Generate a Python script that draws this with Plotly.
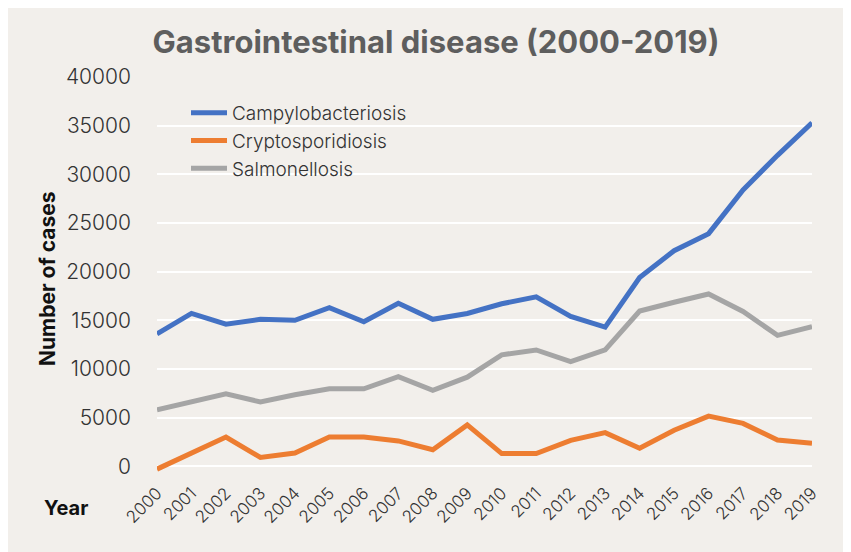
import plotly.graph_objects as go

years = list(range(2000, 2020))
campylobacteriosis = [13600, 15700, 14600, 15100, 15000, 16300, 14850, 16750, 15100, 15700,
                      16700, 17400, 15400, 14300, 19400, 22150, 23900, 28400, 31950, 35300]
cryptosporidiosis = [-300, 1400, 3000, 900, 1350, 3000, 3000, 2600, 1700, 4250,
                     1300, 1300, 2650, 3450, 1850, 3700, 5150, 4400, 2700, 2350]
salmonellosis = [5800, 6650, 7450, 6600, 7350, 7950, 7950, 9200, 7800, 9150,
                 11450, 11950, 10750, 11950, 15950, 16850, 17700, 15900, 13450, 14350]
series_names = ["Campylobacteriosis", "Cryptosporidiosis", "Salmonellosis"]
series_colors = ["#4472C4", "#ED7D31", "#A5A5A5"]
year_labels = [str(y) for y in years]
y_ticks = list(range(0, 40001, 5000))

BG = "#F2EFEB"
FONT = "Inter"
# page has an 8px body margin; figure coords = page coords - 8
W, H = 841, 544
L, R, T, B = 149, 37, 69, 78
PW, PH = W - L - R, H - T - B


def px_x(x):
    return (x - L) / PW


def px_y(y):
    return (H - B - y) / PH


fig = go.Figure()
for name, vals, col in zip(series_names, [campylobacteriosis, cryptosporidiosis, salmonellosis], series_colors):
    fig.add_trace(go.Scatter(x=years, y=vals, mode="lines", name=name,
                             line=dict(color=col, width=5)))

fig.update_layout(
    width=W, height=H,
    margin=dict(l=L, r=R, t=T, b=B, pad=0, autoexpand=False),
    paper_bgcolor=BG,
    plot_bgcolor="rgba(0,0,0,0)",
    title=dict(text="<b>Gastrointestinal disease (2000-2019)</b>",
               x=428 / W, xanchor="center", xref="container",
               y=1 - 34 / H, yanchor="middle", yref="container",
               font=dict(family=FONT, size=31, color="#5E5E5E")),
    font=dict(family=FONT, color="#333333"),
    legend=dict(x=px_x(178), y=px_y(86), xanchor="left", yanchor="top",
                bgcolor="rgba(0,0,0,0)",
                font=dict(family=FONT, size=19, color="#333333", weight=300),
                itemwidth=36, tracegroupgap=0),
    annotations=[
        dict(text="<b>Number of cases</b>", textangle=-90, xref="paper", yref="paper",
             x=px_x(39), y=px_y(271),
             xanchor="center", yanchor="middle", showarrow=False,
             font=dict(family=FONT, size=21, color="#111111")),
        dict(text="<b>Year</b>", xref="paper", yref="paper",
             x=px_x(58), y=px_y(500),
             xanchor="center", yanchor="middle", showarrow=False,
             font=dict(family=FONT, size=20, color="#111111")),
    ],
)

fig.update_xaxes(range=[2000, 2019], tickmode="array", tickvals=years, ticktext=year_labels,
                 tickangle=-45, showgrid=False, zeroline=False, showline=False,
                 ticks="", ticklabelstandoff=5, automargin=False,
                 tickfont=dict(family=FONT, size=17, color="#333333", weight=300))
fig.update_yaxes(range=[-800, 40000], tickmode="array", tickvals=y_ticks,
                 ticktext=[str(v) for v in y_ticks],
                 showgrid=True, gridcolor="white", gridwidth=2,
                 zeroline=True, zerolinecolor="white", zerolinewidth=2,
                 showline=False, ticks="", ticklabelstandoff=25, automargin=False,
                 tickfont=dict(family=FONT, size=21, color="#333333", weight=300))

fig.write_html("out.html")
